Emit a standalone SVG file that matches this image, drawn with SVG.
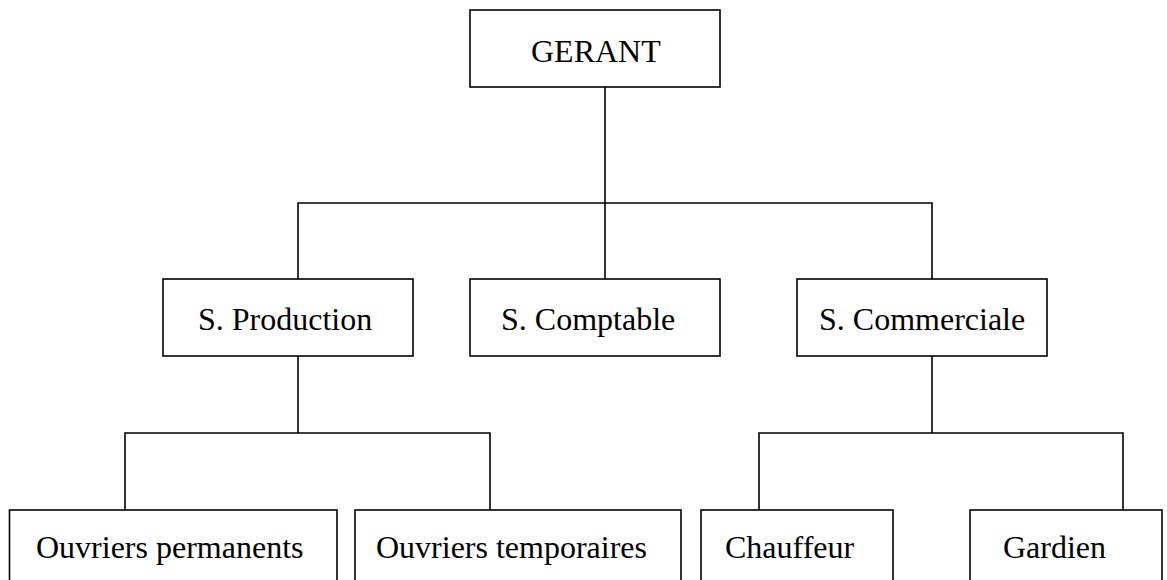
<svg xmlns="http://www.w3.org/2000/svg" width="1167" height="580" viewBox="0 0 1167 580">
<style>
.box{fill:#fff;stroke:#000;stroke-width:1.6}
.lbl{font-family:"Liberation Serif","Times New Roman",serif;font-size:32px;fill:#000}
.conn{fill:none;stroke:#000;stroke-width:1.6}
</style>
<rect width="1167" height="580" fill="#fff"/>
<g id="connectors" class="conn">
<path d="M605,87 V279"/>
<path d="M298,279 V203 H932 V279"/>
<path d="M298,356 V433"/>
<path d="M125,510 V433 H490 V510"/>
<path d="M932,356 V433"/>
<path d="M759,510 V433 H1123 V510"/>
</g>
<g id="gerant"><rect class="box" x="470" y="10" width="250" height="77"/><text class="lbl" x="531" y="62">GERANT</text></g>
<g id="production"><rect class="box" x="163" y="279" width="250" height="77"/><text class="lbl" x="198" y="330">S. Production</text></g>
<g id="comptable"><rect class="box" x="470" y="279" width="250" height="77"/><text class="lbl" x="501" y="330">S. Comptable</text></g>
<g id="commerciale"><rect class="box" x="797" y="279" width="250" height="77"/><text class="lbl" x="819" y="330">S. Commerciale</text></g>
<g id="permanents"><rect class="box" x="9.5" y="510" width="327.5" height="80"/><text class="lbl" x="36" y="558">Ouvriers permanents</text></g>
<g id="temporaires"><rect class="box" x="355" y="510" width="326" height="80"/><text class="lbl" x="376" y="558">Ouvriers temporaires</text></g>
<g id="chauffeur"><rect class="box" x="701" y="510" width="192" height="80"/><text class="lbl" x="725" y="558">Chauffeur</text></g>
<g id="gardien"><rect class="box" x="970" y="510" width="192" height="80"/><text class="lbl" x="1003" y="558">Gardien</text></g>
</svg>
